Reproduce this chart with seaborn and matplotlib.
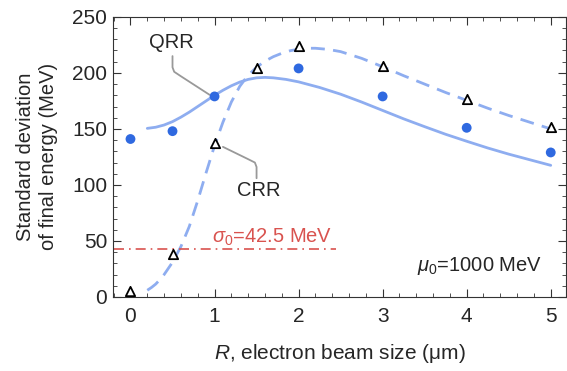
import numpy as np
import pandas as pd
import matplotlib.pyplot as plt
import seaborn as sns
from matplotlib.ticker import MultipleLocator

# data
R_pts = [0, 0.5, 1, 2, 3, 4, 5]
qrr_pts = [141, 148, 179, 204, 179, 151, 129]
R_tri = [0, 0.5, 1, 1.5, 2, 3, 4, 5]
crr_pts = [5, 38, 137, 204, 224, 206, 177, 152]

R_qrr_curve = [0.2, 0.3, 0.4, 0.5, 0.6, 0.7, 0.8, 0.9, 1.0, 1.1, 1.2, 1.3, 1.4, 1.5,
               1.6, 1.7, 1.85, 2.0, 2.25, 2.5, 2.75, 3.0, 3.25, 3.5, 3.75, 4.0,
               4.25, 4.5, 4.75, 5.0]
qrr_curve = [150.5, 151.5, 153.5, 156.5, 160.5, 165, 170, 175, 180, 184.5, 188.5,
             191.8, 194.2, 195.6, 196, 195.6, 194.2, 192, 187, 181, 174, 166.5,
             159, 152, 145.2, 139, 133, 127.5, 122.5, 117.5]
R_crr_curve = [0.2, 0.25, 0.3, 0.35, 0.4, 0.45, 0.5, 0.6, 0.7, 0.8, 0.9, 1.0, 1.1,
               1.2, 1.3, 1.4, 1.5, 1.6, 1.7, 1.8, 1.9, 2.0, 2.1, 2.2, 2.35, 2.5,
               2.75, 3.0, 3.25, 3.5, 3.75, 4.0, 4.25, 4.5, 4.75, 5.0]
crr_curve = [6, 8.5, 11.5, 15.5, 20, 25.5, 31, 45, 63, 86, 111, 135, 156, 174,
             188, 198, 205, 210.5, 214.5, 217.5, 219.8, 221.2, 222, 222, 221, 219,
             213, 205.5, 197.5, 190, 182.5, 175.5, 168.5, 162, 156, 150]
sigma0 = 42.5

sns.set_style("ticks")
plt.rcParams['font.family'] = ['Liberation Sans', 'DejaVu Sans']
plt.rcParams['mathtext.fontset'] = 'custom'
plt.rcParams['mathtext.it'] = 'Liberation Sans:italic'
plt.rcParams['mathtext.rm'] = 'Liberation Sans'

fig = plt.figure(figsize=(5.67, 3.71), dpi=100)
ax = fig.add_axes([0.199, 0.1995, 0.799, 0.755])

line_col = "#8eadf0"
dot_col = "#2f69e0"
red = "#d9534f"

sns.lineplot(x=R_qrr_curve, y=qrr_curve, ax=ax, color=line_col, lw=2, sort=False)
sns.lineplot(x=R_crr_curve, y=crr_curve, ax=ax, color=line_col, lw=2, sort=False,
             linestyle=(0, (5, 3)))
ax.plot([-0.2, 2.45], [sigma0, sigma0], color=red, lw=1.2, linestyle=(0, (6, 3, 1, 3)))

sns.scatterplot(x=R_pts, y=qrr_pts, ax=ax, color=dot_col, s=50, edgecolor="none", zorder=5)
sns.scatterplot(x=R_tri, y=crr_pts, ax=ax, marker="^", s=45, facecolor="white",
                edgecolor="black", linewidth=1.3, zorder=6)

# leader lines
ax.plot([0.5, 0.5, 0.52, 0.6, 0.94], [215, 205, 201, 197, 180.5], color="#999999", lw=1.3, zorder=3)
ax.plot([1.5, 1.5, 1.48, 1.4, 1.1], [106, 116, 120, 123, 134], color="#999999", lw=1.3, zorder=3)
ax.text(0.49, 227, "QRR", fontsize=14.5, ha="center", va="center")
ax.text(1.53, 95, "CRR", fontsize=14.5, ha="center", va="center")
ax.text(1.68, 53, r"$\sigma_0$=42.5 MeV", fontsize=14.5, color=red, ha="center", va="center")
ax.text(4.9, 28, r"$\mu_0$=1000 MeV", fontsize=14.5, ha="right", va="center")

ax.set_xlim(-0.21, 5.18)
ax.set_ylim(0, 250)
ax.xaxis.set_major_locator(MultipleLocator(1))
ax.xaxis.set_minor_locator(MultipleLocator(0.2))
ax.yaxis.set_major_locator(MultipleLocator(50))
ax.yaxis.set_minor_locator(MultipleLocator(10))
ax.tick_params(which="both", direction="in", top=True, right=True, labelsize=15, color="#333333")
ax.tick_params(which="major", length=6)
ax.tick_params(which="minor", length=3)
ax.tick_params(axis="x", pad=7)
ax.tick_params(axis="y", pad=4)
for s in ax.spines.values():
    s.set_color("#333333")

ax.set_xlabel(r"$R$, electron beam size (μm)", fontsize=15, labelpad=12)
ax.set_ylabel("Standard deviation\nof final energy (MeV)", fontsize=14.5, labelpad=10,
              linespacing=1.3)

fig.savefig("out.png", dpi=100)
